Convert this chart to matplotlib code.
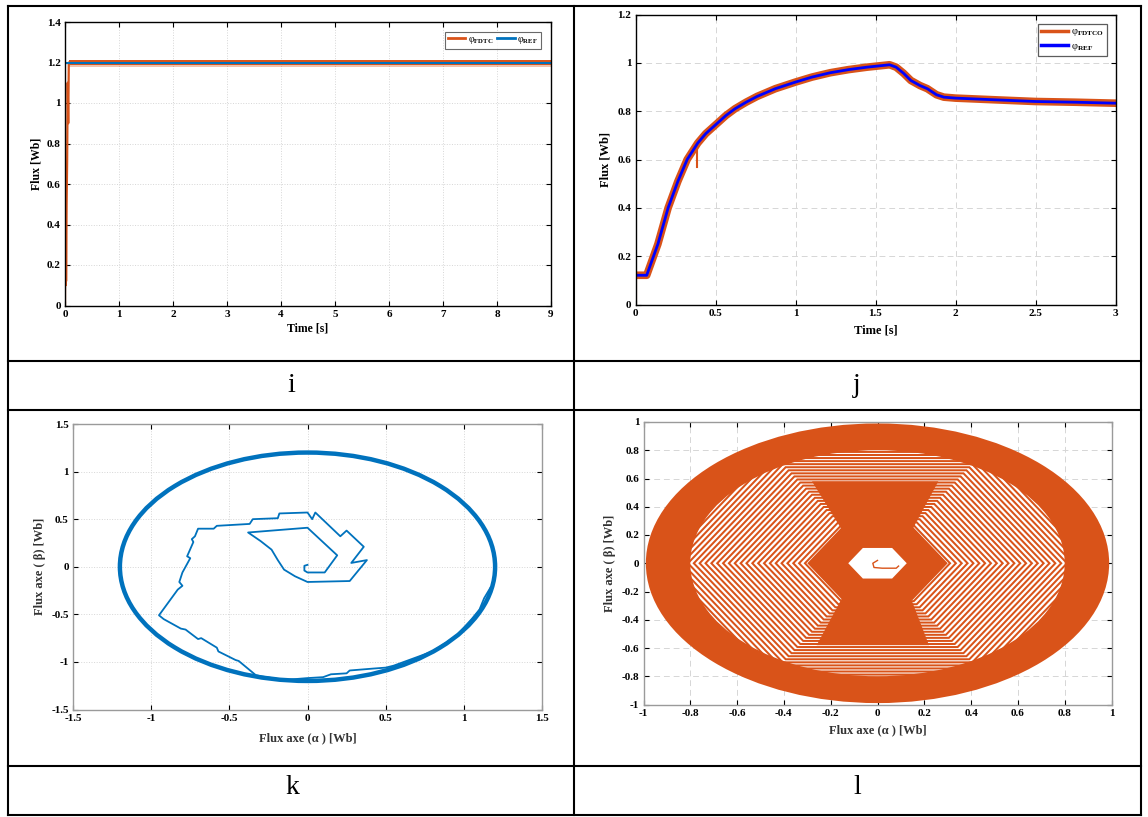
import matplotlib
matplotlib.use("Agg")
import matplotlib.pyplot as plt
from matplotlib.lines import Line2D
from matplotlib.patches import Circle, RegularPolygon, Polygon
import numpy as np

plt.rcParams['font.family'] = ['Liberation Serif', 'DejaVu Serif']
plt.rcParams['mathtext.fontset'] = 'custom'
plt.rcParams['mathtext.rm'] = 'Liberation Serif'
plt.rcParams['mathtext.it'] = 'Liberation Serif:italic'
plt.rcParams['mathtext.bf'] = 'Liberation Serif:bold'

ORANGE = '#D95319'
BLUE = '#0072BD'

# ---- panel i : flux magnitude, FDTC vs reference (0-9 s)
time_i = [0.0, 0.004, 0.008, 0.012, 0.016, 0.02, 0.03, 0.04, 0.05, 0.06, 0.07, 0.08]
fdtc_i = [0.0, 0.30, 0.53, 0.10, 0.45, 0.12, 0.50, 0.72, 1.10, 0.90, 1.19, 1.20]
band_t_i = [0.08, 9.0]
band_hi_i = [1.213, 1.213]
band_lo_i = [1.186, 1.186]
band_fringe_i = [1.176, 1.176]
ref_t_i = [0.0, 9.0]
ref_i = [1.2, 1.2]

# ---- panel j : flux magnitude, FDTCO vs reference (0-3 s)
ref_t_j = [0.0, 0.07, 0.14, 0.204, 0.265, 0.323, 0.389, 0.439, 0.508, 0.565, 0.622,
           0.691, 0.76, 0.874, 0.998, 1.103, 1.217, 1.332, 1.446, 1.588, 1.629, 1.675,
           1.721, 1.778, 1.824, 1.881, 1.927, 2.0, 2.247, 2.5, 2.75, 3.0]
ref_j = [0.121, 0.121, 0.25, 0.40, 0.51, 0.60, 0.668, 0.707, 0.748, 0.782, 0.81,
         0.837, 0.861, 0.893, 0.92, 0.941, 0.959, 0.972, 0.982, 0.992, 0.982, 0.957,
         0.927, 0.906, 0.893, 0.868, 0.858, 0.854, 0.847, 0.84, 0.837, 0.833]
start_t_j = [0.003, 0.003]
start_j = [0.0, 0.13]
spike_t_j = [0.385, 0.385]
spike_j = [0.665, 0.57]

# ---- panel k : flux locus (alpha, beta)
circle_radius_k = 1.2
alpha_k = [0.0, -0.02, -0.02, 0.0, 0.11, 0.19, 0.0, -0.38, -0.30, -0.23, -0.19, -0.15,
           -0.08, 0.0, 0.27, 0.38, 0.28, 0.36, 0.25, 0.21, 0.05, 0.03, 0.0, -0.18,
           -0.19, -0.35, -0.37, -0.58, -0.60, -0.70, -0.72, -0.74, -0.73, -0.77, -0.75,
           -0.80, -0.82, -0.80, -0.83, -0.95, -0.92, -0.81, -0.78, -0.70, -0.68, -0.58,
           -0.57, -0.46, -0.44, -0.33, -0.30, -0.15, 0.0, 0.10, 0.15, 0.25, 0.27, 0.42,
           0.50, 0.55, 0.80, 0.95, 1.05, 1.10, 1.13, 1.17]
beta_k = [0.02, 0.01, -0.04, -0.06, -0.06, 0.12, 0.41, 0.36, 0.27, 0.18, 0.07, -0.03,
          -0.10, -0.16, -0.15, 0.07, 0.04, 0.21, 0.38, 0.32, 0.57, 0.50, 0.57, 0.56,
          0.51, 0.50, 0.45, 0.43, 0.40, 0.40, 0.32, 0.29, 0.26, 0.11, 0.09, -0.06,
          -0.16, -0.20, -0.24, -0.51, -0.55, -0.65, -0.66, -0.76, -0.75, -0.85, -0.89,
          -0.98, -0.99, -1.14, -1.15, -1.19, -1.17, -1.16, -1.13, -1.12, -1.09, -1.07,
          -1.06, -1.04, -0.89, -0.73, -0.55, -0.45, -0.33, -0.22]

# ---- panel l : flux locus (alpha, beta), dense hexagonal spiral
outer_radius_l = 0.99
inner_radius_l = 0.80
core_radius_l = 0.30
hole_radius_l = 0.125
ring_radii_l = [0.16, 0.185, 0.21, 0.235, 0.26, 0.285, 0.31, 0.335, 0.36, 0.385, 0.41,
                0.435, 0.46, 0.485, 0.51, 0.535, 0.56, 0.585, 0.61, 0.635, 0.66, 0.685,
                0.71, 0.735, 0.76, 0.785, 0.81, 0.835, 0.86, 0.885, 0.91, 0.935]
top_wedge_l = [(-0.12, 0.15), (0.12, 0.15), (0.26, 0.58), (-0.28, 0.58)]
bottom_wedge_l = [(-0.12, -0.15), (0.12, -0.15), (0.22, -0.58), (-0.26, -0.58)]
hook_alpha_l = [0.0, -0.02, -0.015, 0.02, 0.08, 0.09]
hook_beta_l = [0.02, 0.0, -0.03, -0.035, -0.035, -0.02]

W, H = 1148, 817
fig = plt.figure(figsize=(W / 100, H / 100), dpi=100)


def box(l, t, r, b):
    return [l / W, 1 - b / H, (r - l) / W, (b - t) / H]


def style(ax, edge, grid_ls, xt, xl, yt, yl):
    ax.set_xticks(xt, labels=xl, fontweight='bold')
    ax.set_yticks(yt, labels=yl, fontweight='bold')
    ax.tick_params(direction='in', top=True, right=True, length=3.5, width=0.8,
                   labelsize=8, pad=3, color='black')
    for s in ax.spines.values():
        s.set_color(edge)
        s.set_linewidth(1.0)
    ax.grid(True, ls=grid_ls, color='#d6d6d6', lw=0.7)
    ax.set_axisbelow(True)


# panel i
ax = fig.add_axes(box(65, 22, 551, 305.5))
ax.fill_between(band_t_i, band_fringe_i, band_lo_i, color=ORANGE, alpha=0.35, lw=0)
ax.fill_between(band_t_i, band_lo_i, band_hi_i, color=ORANGE, lw=0)
ax.plot(time_i, fdtc_i, color=ORANGE, lw=1.6)
ax.plot(ref_t_i, ref_i, color=BLUE, lw=1.5)
ax.set_xlim(0, 9)
ax.set_ylim(0, 1.4)
style(ax, 'black', ':', list(range(10)), [str(v) for v in range(10)],
      [0, 0.2, 0.4, 0.6, 0.8, 1.0, 1.2, 1.4],
      ['0', '0.2', '0.4', '0.6', '0.8', '1', '1.2', '1.4'])
ax.set_xlabel('Time [s]', fontsize=8.5, fontweight='bold', labelpad=3)
ax.set_ylabel('Flux [Wb]', fontsize=8.5, fontweight='bold', labelpad=3)
handles = [Line2D([], [], color=ORANGE, lw=2), Line2D([], [], color=BLUE, lw=2)]
leg = ax.legend(handles, [r'$\mathrm{φ}_{\mathbf{FDTC}}$', r'$\mathrm{φ}_{\mathbf{REF}}$'],
                ncol=2, loc='upper right', bbox_to_anchor=(0.98, 0.965), fontsize=7,
                fancybox=False, edgecolor='#444444', handlelength=1.8, handletextpad=0.3,
                columnspacing=0.3, borderpad=0.3, borderaxespad=0)
leg.get_frame().set_linewidth(0.8)

# panel j
ax = fig.add_axes(box(635.5, 14.5, 1115.5, 304.5))
ax.plot(ref_t_j, ref_j, color=ORANGE, lw=5.5, solid_joinstyle='round')
ax.plot(start_t_j, start_j, color=ORANGE, lw=1.5)
ax.plot(spike_t_j, spike_j, color=ORANGE, lw=1.5)
ax.plot(ref_t_j, ref_j, color='#0000FF', lw=2.0)
ax.set_xlim(0, 3)
ax.set_ylim(0, 1.2)
style(ax, 'black', (0, (6, 4)), [0, 0.5, 1, 1.5, 2, 2.5, 3],
      ['0', '0.5', '1', '1.5', '2', '2.5', '3'],
      [0, 0.2, 0.4, 0.6, 0.8, 1.0, 1.2],
      ['0', '0.2', '0.4', '0.6', '0.8', '1', '1.2'])
ax.set_xlabel('Time [s]', fontsize=9, fontweight='bold', labelpad=5)
ax.set_ylabel('Flux [Wb]', fontsize=9, fontweight='bold', labelpad=4)
handles = [Line2D([], [], color=ORANGE, lw=2.5), Line2D([], [], color='#0000FF', lw=2.5)]
leg = ax.legend(handles, [r'$\mathrm{φ}_{\mathbf{FDTCO}}$', r'$\mathrm{φ}_{\mathbf{REF}}$'],
                loc='upper right', bbox_to_anchor=(0.982, 0.967), fontsize=7.5,
                fancybox=False, edgecolor='#333333', handlelength=2.5, handletextpad=0.3,
                labelspacing=0.3, borderpad=0.3, borderaxespad=0)
leg.get_frame().set_linewidth(0.9)

# panel k
ax = fig.add_axes(box(73, 424, 542, 709.5))
ax.add_patch(Circle((0, 0), circle_radius_k, fill=False, edgecolor=BLUE, lw=3.2))
ax.plot(alpha_k, beta_k, color=BLUE, lw=1.3)
ax.set_xlim(-1.5, 1.5)
ax.set_ylim(-1.5, 1.5)
kt = [-1.5, -1, -0.5, 0, 0.5, 1, 1.5]
kl = ['-1.5', '-1', '-0.5', '0', '0.5', '1', '1.5']
style(ax, '#9a9a9a', ':', kt, kl, kt, kl)
ax.set_xlabel('Flux axe (α ) [Wb]', fontsize=9, fontweight='bold', labelpad=7, color='#333333')
ax.set_ylabel('Flux axe ( β) [Wb]', fontsize=9, fontweight='bold', labelpad=4, color='#333333')

# panel l
ax = fig.add_axes(box(643.5, 422, 1111.5, 704.5))
ax.add_patch(Circle((0, 0), outer_radius_l, color=ORANGE, lw=0, zorder=2))
ax.add_patch(Circle((0, 0), inner_radius_l, color='white', lw=0, zorder=2.1))
for r in ring_radii_l:
    ax.add_patch(RegularPolygon((0, 0), 6, radius=r, orientation=np.pi / 6,
                                fill=False, edgecolor=ORANGE, lw=1.45, zorder=2.2))
ax.add_patch(Polygon(top_wedge_l, color=ORANGE, lw=0, zorder=2.3))
ax.add_patch(Polygon(bottom_wedge_l, color=ORANGE, lw=0, zorder=2.3))
ax.add_patch(RegularPolygon((0, 0), 6, radius=core_radius_l, orientation=np.pi / 6,
                            color=ORANGE, lw=0, zorder=2.3))
ax.add_patch(RegularPolygon((0, 0), 6, radius=hole_radius_l, orientation=np.pi / 6,
                            color='white', lw=0, zorder=2.4))
ax.plot(hook_alpha_l, hook_beta_l, color=ORANGE, lw=1.0, zorder=2.5)
ax.set_xlim(-1, 1)
ax.set_ylim(-1, 1)
lt = [-1, -0.8, -0.6, -0.4, -0.2, 0, 0.2, 0.4, 0.6, 0.8, 1]
ll = ['-1', '-0.8', '-0.6', '-0.4', '-0.2', '0', '0.2', '0.4', '0.6', '0.8', '1']
style(ax, '#9a9a9a', (0, (6, 4)), lt, ll, lt, ll)
ax.set_xlabel('Flux axe (α ) [Wb]', fontsize=9, fontweight='bold', labelpad=5, color='#333333')
ax.set_ylabel('Flux axe ( β) [Wb]', fontsize=9, fontweight='bold', labelpad=4, color='#333333')

# table grid
def hline(y, x0=7.5, x1=1140.5):
    fig.add_artist(Line2D([x0 / W, x1 / W], [1 - y / H, 1 - y / H], color='black', lw=1.5))


def vline(x, y0=6, y1=815):
    fig.add_artist(Line2D([x / W, x / W], [1 - y0 / H, 1 - y1 / H], color='black', lw=1.5))


for y in [6, 361, 410, 766, 815]:
    hline(y)
for x in [7.5, 574, 1140.5]:
    vline(x)

for lab, x, y in [('i', 291, 385), ('j', 857, 385), ('k', 292, 788), ('l', 857, 788)]:
    fig.text(x / W, 1 - y / H, lab, fontsize=20, ha='center', va='center')

fig.savefig('out.png', dpi=100)
